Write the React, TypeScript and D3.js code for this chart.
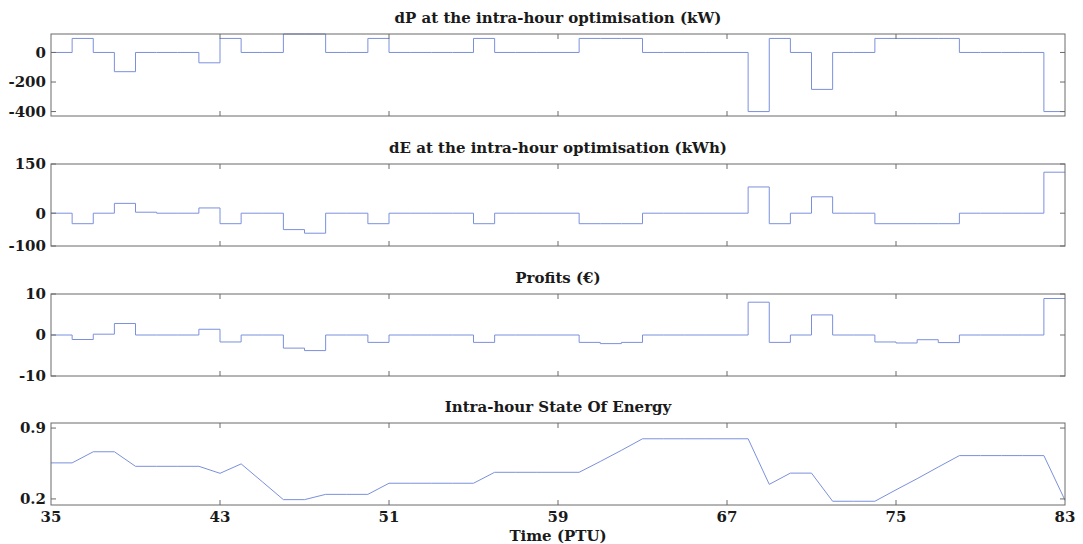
import React from "react";
import * as d3 from "d3";

// ---------- data ----------
const ptu = [35,36,37,38,39,40,41,42,43,44,45,46,47,48,49,50,51,52,53,54,55,56,57,58,59,60,61,62,63,64,65,66,67,68,69,70,71,72,73,74,75,76,77,78,79,80,81,82,83];
const xTicks = [35, 43, 51, 59, 67, 75, 83];

// step values held from PTU k to k+1 (k = 35..82)
const dP = [0,95,0,-130,0,0,0,-70,95,0,0,125,125,0,0,95,0,0,0,0,95,0,0,0,0,95,95,95,0,0,0,0,0,-400,95,0,-250,0,0,95,95,95,95,0,0,0,0,-400];
const dE = [0,-32,0,30,3,0,0,16,-32,0,0,-50,-61,0,0,-32,0,0,0,0,-32,0,0,0,0,-32,-32,-32,0,0,0,0,0,80,-32,0,50,0,0,-32,-32,-32,-32,0,0,0,0,125];
const profits = [0,-1.1,0.2,2.8,0,0,0,1.4,-1.7,0,0,-3.2,-3.8,0,0,-1.8,0,0,0,0,-1.8,0,0,0,0,-1.8,-2.1,-1.8,0,0,0,0,0,8.0,-1.8,0,4.9,0,0,-1.7,-1.95,-1.15,-1.85,0,0,0,0,8.9];
// state of energy at each PTU (35..83)
const soe = [0.556,0.556,0.666,0.666,0.522,0.522,0.522,0.522,0.453,0.546,0.37,0.193,0.193,0.245,0.245,0.245,0.355,0.355,0.355,0.355,0.355,0.463,0.463,0.463,0.463,0.463,0.57,0.68,0.794,0.794,0.794,0.794,0.794,0.794,0.344,0.455,0.455,0.177,0.177,0.177,0.29,0.40,0.515,0.628,0.628,0.628,0.628,0.628,0.187];

const titles = [
  "dP at the intra-hour optimisation (kW)",
  "dE at the intra-hour optimisation (kWh)",
  "Profits (€)",
  "Intra-hour State Of Energy",
];
const yDomains: [number, number][] = [[-430, 125], [-100, 150], [-10, 10], [0.14, 0.95]];
const yTickValues = [[0, -200, -400], [150, 0, -100], [10, 0, -10], [0.9, 0.2]];
const yTickLabels = [["0", "-200", "-400"], ["150", "0", "-100"], ["10", "0", "-10"], ["0.9", "0.2"]];
const xLabel = "Time (PTU)";

// ---------- layout ----------
const W = 1083, H = 544;
const left = 51, right = 1065;
const panelTops = [34, 164, 294, 423];
const panelH = 82;
const lineColor = "#7b90dc";
const frameColor = "#6a6a6a";
const textColor = "#1a1a1a";
const font = "'DejaVu Serif', serif";

export default function App() {
  const x = d3.scaleLinear().domain([35, 83]).range([left, right]);
  const stepSeries = [dP, dE, profits];

  return (
    <svg width={W} height={H} style={{ position: "absolute", left: 0, top: 0, background: "#fff" }}>
      <rect x={0} y={0} width={W} height={H} fill="#fff" />
      {titles.map((t, p) => {
        const top = panelTops[p];
        const y = d3.scaleLinear().domain(yDomains[p]).range([top + panelH, top]);
        let path = "";
        if (p < 3) {
          const vals = stepSeries[p];
          const pts: [number, number][] = vals.map((v, i) => [ptu[i], v]);
          pts.push([ptu[vals.length], vals[vals.length - 1]]);
          path = d3.line<[number, number]>().x(d => x(d[0])).y(d => y(d[1])).curve(d3.curveStepAfter)(pts) || "";
        } else {
          const pts: [number, number][] = soe.map((v, i) => [ptu[i], v]);
          path = d3.line<[number, number]>().x(d => x(d[0])).y(d => y(d[1]))(pts) || "";
        }
        return (
          <g key={p}>
            <text x={(left + right) / 2} y={top - 11} textAnchor="middle" fontFamily={font} fontWeight="bold" fontSize={15} fill={textColor}>{t}</text>
            <path d={path} fill="none" stroke={lineColor} strokeWidth={1} />
            <rect x={left} y={top} width={right - left} height={panelH} fill="none" stroke={frameColor} strokeWidth={1} />
            {xTicks.slice(1, -1).map(v => (
              <g key={v}>
                <line x1={x(v)} x2={x(v)} y1={top} y2={top + 5} stroke={frameColor} />
                <line x1={x(v)} x2={x(v)} y1={top + panelH} y2={top + panelH - 5} stroke={frameColor} />
              </g>
            ))}
            {yTickValues[p].map((v, i) => (
              <g key={i}>
                <line x1={left} x2={left + 5} y1={y(v)} y2={y(v)} stroke={frameColor} />
                <line x1={right} x2={right - 5} y1={y(v)} y2={y(v)} stroke={frameColor} />
                <text x={46} y={y(v)} dy="0.36em" textAnchor="end" fontFamily={font} fontWeight="bold" fontSize={15} fill={textColor}>{yTickLabels[p][i]}</text>
              </g>
            ))}
          </g>
        );
      })}
      {xTicks.map(v => (
        <text key={v} x={x(v)} y={522} textAnchor="middle" fontFamily={font} fontWeight="bold" fontSize={15} fill={textColor}>{v}</text>
      ))}
      <text x={(left + right) / 2} y={541} textAnchor="middle" fontFamily={font} fontWeight="bold" fontSize={15} fill={textColor}>{xLabel}</text>
    </svg>
  );
}
